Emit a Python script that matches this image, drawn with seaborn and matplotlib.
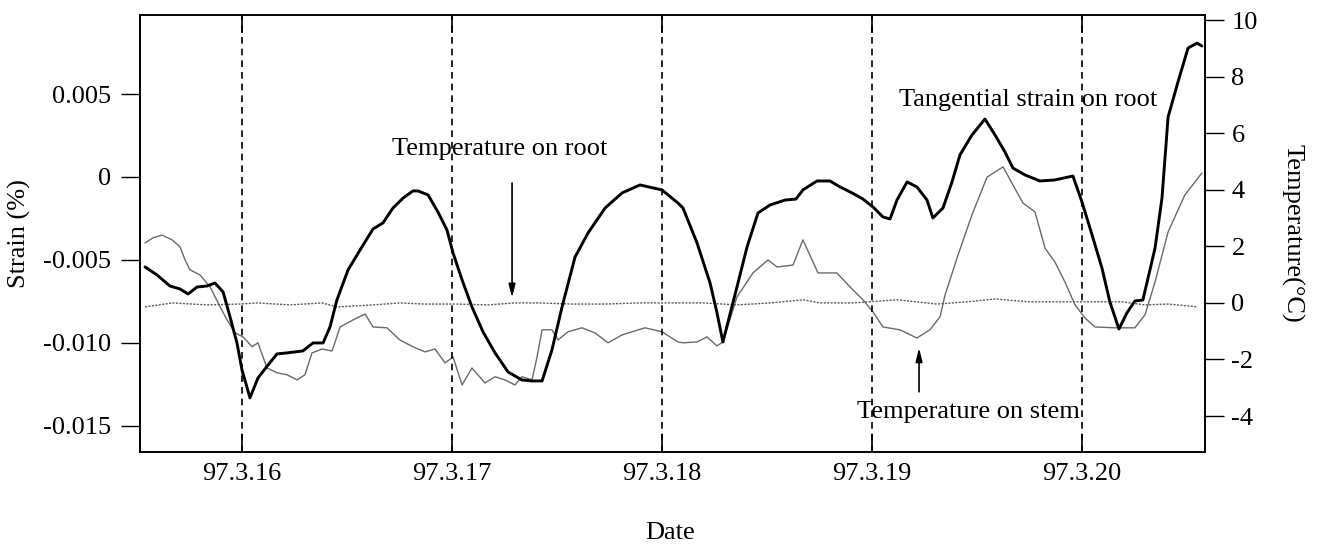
import matplotlib
matplotlib.use("Agg")
import matplotlib.pyplot as plt
import seaborn as sns
import pandas as pd

# ---------------- data ----------------
# x values are days of March 1997 (16.0 = 97.3.16 00:00)
strain_day = [15.538, 15.595, 15.657, 15.705, 15.743, 15.786, 15.833, 15.871, 15.910, 15.943,
              15.976, 16.000, 16.038, 16.076, 16.124, 16.167, 16.214, 16.290, 16.338, 16.386,
              16.419, 16.452, 16.505, 16.562, 16.624, 16.671, 16.719, 16.767, 16.814, 16.838,
              16.886, 16.933, 16.976, 17.005, 17.048, 17.095, 17.148, 17.205, 17.267, 17.333,
              17.381, 17.429, 17.476, 17.524, 17.586, 17.648, 17.729, 17.810, 17.895, 18.000,
              18.076, 18.100, 18.167, 18.229, 18.262, 18.290, 18.357, 18.405, 18.457, 18.514,
              18.586, 18.638, 18.671, 18.738, 18.800, 18.848, 18.905, 18.957, 19.005, 19.052,
              19.086, 19.119, 19.167, 19.214, 19.262, 19.290, 19.338, 19.381, 19.419, 19.476,
              19.538, 19.586, 19.633, 19.671, 19.729, 19.800, 19.871, 19.957, 20.000, 20.048,
              20.095, 20.133, 20.176, 20.214, 20.252, 20.290, 20.348, 20.381, 20.410, 20.457,
              20.505, 20.548, 20.571]
strain_val = [-0.00542, -0.00590, -0.00657, -0.00675, -0.00705, -0.00663, -0.00657, -0.00639, -0.00693, -0.00843,
              -0.01000, -0.01163, -0.01331, -0.01211, -0.01133, -0.01066, -0.01060, -0.01048, -0.01000, -0.01000,
              -0.00904, -0.00741, -0.00560, -0.00440, -0.00313, -0.00277, -0.00187, -0.00127, -0.00084, -0.00084,
              -0.00108, -0.00211, -0.00319, -0.00458, -0.00620, -0.00783, -0.00934, -0.01060, -0.01175, -0.01223,
              -0.01229, -0.01229, -0.01042, -0.00783, -0.00482, -0.00337, -0.00187, -0.00096, -0.00048, -0.00078,
              -0.00157, -0.00187, -0.00398, -0.00639, -0.00819, -0.00994, -0.00663, -0.00422, -0.00217, -0.00169,
              -0.00139, -0.00133, -0.00078, -0.00024, -0.00024, -0.00060, -0.00096, -0.00133, -0.00181, -0.00241,
              -0.00253, -0.00139, -0.00030, -0.00060, -0.00139, -0.00247, -0.00187, -0.00030, 0.00133, 0.00253,
              0.00349, 0.00253, 0.00151, 0.00054, 0.00012, -0.00024, -0.00018, 0.00006, -0.00151, -0.00349,
              -0.00548, -0.00753, -0.00916, -0.00819, -0.00747, -0.00741, -0.00428, -0.00127, 0.00361, 0.00572,
              0.00777, 0.00807, 0.00789]

stem_day = [15.538, 15.576, 15.619, 15.667, 15.705, 15.729, 15.752, 15.800, 15.848, 15.886,
            15.929, 15.967, 16.005, 16.048, 16.076, 16.119, 16.167, 16.214, 16.262, 16.300,
            16.333, 16.381, 16.429, 16.467, 16.529, 16.586, 16.624, 16.690, 16.752, 16.814,
            16.871, 16.919, 16.967, 17.005, 17.048, 17.095, 17.157, 17.205, 17.252, 17.300,
            17.333, 17.381, 17.405, 17.429, 17.476, 17.505, 17.552, 17.619, 17.681, 17.743,
            17.810, 17.919, 18.000, 18.076, 18.100, 18.167, 18.214, 18.262, 18.290, 18.357,
            18.433, 18.505, 18.548, 18.624, 18.671, 18.743, 18.833, 18.895, 18.957, 19.005,
            19.052, 19.133, 19.214, 19.276, 19.324, 19.348, 19.410, 19.476, 19.548, 19.624,
            19.690, 19.719, 19.776, 19.824, 19.871, 19.919, 19.967, 20.014, 20.062, 20.157,
            20.252, 20.300, 20.348, 20.410, 20.490, 20.571]
stem_temp = [2.12, 2.30, 2.40, 2.23, 1.98, 1.52, 1.17, 0.99, 0.57, 0.00,
             -0.60, -1.06, -1.20, -1.55, -1.41, -2.30, -2.47, -2.54, -2.72, -2.54,
             -1.77, -1.63, -1.70, -0.85, -0.60, -0.39, -0.85, -0.88, -1.31, -1.55,
             -1.73, -1.63, -2.12, -1.91, -2.90, -2.30, -2.83, -2.61, -2.72, -2.90,
             -2.61, -2.72, -1.91, -0.95, -0.95, -1.31, -1.02, -0.88, -1.06, -1.41,
             -1.13, -0.88, -1.02, -1.38, -1.41, -1.38, -1.20, -1.52, -1.38, 0.21,
             1.06, 1.52, 1.27, 1.34, 2.23, 1.06, 1.06, 0.57, 0.11, -0.32,
             -0.85, -0.95, -1.24, -0.95, -0.49, 0.28, 1.70, 3.11, 4.45, 4.81,
             3.92, 3.53, 3.22, 1.94, 1.45, 0.74, -0.07, -0.53, -0.85, -0.88,
             -0.88, -0.42, 0.74, 2.51, 3.82, 4.59]

root_day = [15.538, 15.671, 15.833, 15.990, 16.071, 16.229, 16.381, 16.452, 16.624, 16.752,
            16.871, 17.014, 17.171, 17.300, 17.410, 17.571, 17.729, 17.886, 18.076, 18.195,
            18.357, 18.514, 18.671, 18.752, 18.910, 19.119, 19.310, 19.457, 19.586, 19.743,
            19.967, 20.190, 20.300, 20.410, 20.552]
root_temp = [-0.14, 0.00, -0.07, -0.04, 0.00, -0.07, 0.00, -0.14, -0.07, 0.00,
             -0.04, -0.04, -0.07, 0.00, 0.00, -0.04, -0.04, 0.00, 0.00, 0.00,
             -0.07, 0.00, 0.11, 0.00, 0.00, 0.11, -0.04, 0.04, 0.14, 0.04,
             0.04, 0.04, -0.07, -0.04, -0.14]

day_ticks = [16, 17, 18, 19, 20]
day_labels = ["97.3.16", "97.3.17", "97.3.18", "97.3.19", "97.3.20"]
strain_ticks = [-0.015, -0.010, -0.005, 0.0, 0.005]
strain_labels = ["-0.015", "-0.010", "-0.005", "0", "0.005"]
temp_ticks = [-4, -2, 0, 2, 4, 6, 8, 10]
temp_labels = ["-4", "-2", "0", "2", "4", "6", "8", "10"]

strain_df = pd.DataFrame({"day": strain_day, "strain": strain_val})
stem_df = pd.DataFrame({"day": stem_day, "temp": stem_temp})
root_df = pd.DataFrame({"day": root_day, "temp": root_temp})

# ---------------- style ----------------
sns.set_style("ticks")
plt.rcParams["font.family"] = ["Liberation Serif", "DejaVu Serif"]
plt.rcParams["axes.linewidth"] = 1.2
plt.rcParams["text.color"] = "black"
plt.rcParams["axes.labelcolor"] = "black"
plt.rcParams["xtick.color"] = "black"
plt.rcParams["ytick.color"] = "black"
FS = 19

fig = plt.figure(figsize=(13.19, 5.46), dpi=100)
ax = fig.add_axes([0.1061, 0.1722, 0.8075, 0.8003])
ax2 = ax.twinx()

# temperatures (right axis)
sns.lineplot(data=stem_df, x="day", y="temp", ax=ax2, color="#6a6a6a", lw=1.0,
             sort=False, estimator=None)
sns.lineplot(data=root_df, x="day", y="temp", ax=ax2, color="#5a5a5a", lw=1.0,
             linestyle=(0, (1.5, 1)), sort=False, estimator=None)
# strain (left axis)
sns.lineplot(data=strain_df, x="day", y="strain", ax=ax, color="black", lw=2.1,
             sort=False, estimator=None)

ax.set_zorder(ax2.get_zorder() + 1)
ax.patch.set_visible(False)

# limits
ax.set_xlim(15.514, 20.586)
ax.set_ylim(-0.01657, 0.00976)
ax2.set_ylim(-5.27, 10.18)

# ticks
ax.set_xticks(day_ticks)
ax.set_xticklabels(day_labels)
ax.set_yticks(strain_ticks)
ax.set_yticklabels(strain_labels)
ax2.set_yticks(temp_ticks)
ax2.set_yticklabels(temp_labels)

ax.tick_params(axis="x", direction="in", length=13, width=1.2, top=True, pad=8,
               labelsize=FS, colors="black")
ax.tick_params(axis="y", direction="out", length=14, width=1.0, pad=7,
               labelsize=FS, colors="black")
ax2.tick_params(axis="y", direction="out", length=14, width=1.0, pad=5,
                labelsize=FS, colors="black")

# dashed day lines
ax.xaxis.grid(True, linestyle=(0, (4, 3)), color="black", lw=1.2)
ax.yaxis.grid(False)

for sp in list(ax.spines.values()) + list(ax2.spines.values()):
    sp.set_color("black")
    sp.set_linewidth(1.2)

# axis labels
ax.set_xlabel("Date", fontsize=FS, color="black")
ax.xaxis.label.set_va("center")
ax.xaxis.set_label_coords(0.498, -0.185)
ax.set_ylabel("Strain (%)", fontsize=FS, color="black")
ax.yaxis.label.set_va("center")
ax.yaxis.set_label_coords(-0.1127, 0.5)
ax2.set_ylabel("Temperature(°C)", fontsize=FS, rotation=270, color="black")
ax2.yaxis.label.set_va("center")
ax2.yaxis.set_label_coords(1.0817, 0.5)

# annotations
arrow = dict(arrowstyle="-|>,head_length=0.8,head_width=0.2", color="black",
             lw=1.2, shrinkA=0, shrinkB=0)
ax2.text(17.229, 5.23, "Temperature on root", ha="center", va="baseline",
         fontsize=FS, color="black")
ax2.annotate("", xy=(17.286, 0.18), xytext=(17.286, 4.24), arrowprops=arrow)
ax2.text(19.457, -4.06, "Temperature on stem", ha="center", va="baseline",
         fontsize=FS, color="black")
ax2.annotate("", xy=(19.224, -1.59), xytext=(19.224, -3.14), arrowprops=arrow)
ax.text(19.743, 0.00428, "Tangential strain on root", ha="center", va="baseline",
        fontsize=FS, color="black")

fig.savefig("out.png", dpi=100)
